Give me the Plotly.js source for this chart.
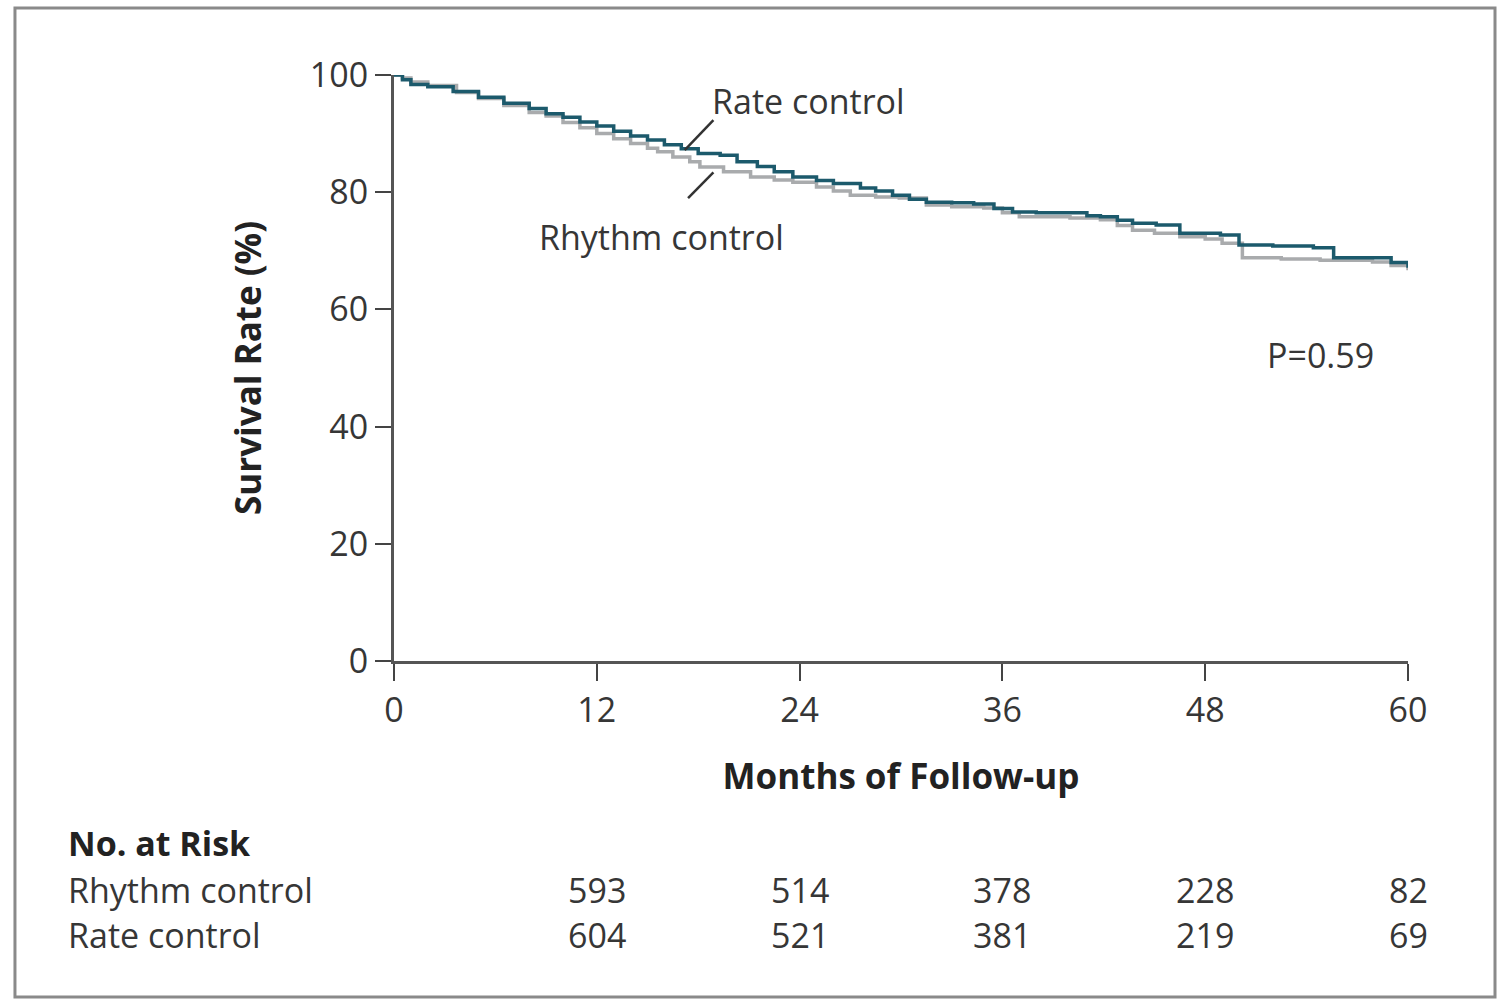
<!DOCTYPE html>
<html>
<head>
<meta charset="utf-8">
<script src="https://cdn.plot.ly/plotly-3.0.1.min.js"></script>
<style>
  html, body { margin: 0; padding: 0; background: #fff; }
  #myDiv { width: 1503px; height: 1000px; }
</style>
</head>
<body>
<div id="myDiv"></div>
<script>
// Kaplan-Meier curves (months, survival %)
var rateMonths = [0, 0.5, 1, 2, 3.5, 5, 6.5, 8, 9, 10, 11, 12, 13, 14, 15, 16, 17, 18, 19.3, 20.3, 21.5, 22.5, 23.6, 25, 26, 27.6, 28.5, 29.5, 30.5, 31.5, 33, 34.3, 35.5, 36.6, 38, 40, 41, 41.8, 42.8, 43.7, 45.1, 46.5, 48.9, 50, 52, 54.4, 55.6, 57.9, 59, 60];
var rateSurv = [100, 99.2, 98.4, 98.0, 97.2, 96.2, 95.2, 94.3, 93.4, 92.8, 92.0, 91.3, 90.4, 89.6, 88.9, 88.1, 87.4, 86.6, 86.3, 85.2, 84.4, 83.5, 82.6, 82.0, 81.5, 80.7, 80.2, 79.5, 78.8, 78.3, 78.2, 78.0, 77.2, 76.6, 76.5, 76.5, 76.0, 75.8, 75.2, 74.7, 74.4, 73.0, 72.7, 71.0, 70.8, 70.5, 68.8, 68.8, 68.0, 67.1];

var rhythmMonths = [0, 0.5, 1, 2, 3.7, 5, 6.5, 8, 9, 10, 11, 12, 13, 14, 15, 15.6, 16.5, 17.5, 18.1, 19.5, 21.1, 22.5, 23.6, 25, 26, 27, 28.5, 29.9, 31.5, 33, 34.9, 36, 37, 40, 41.8, 42.8, 43.7, 45, 46.5, 48, 49, 50.2, 52.5, 54.8, 57.9, 59, 60];
var rhythmSurv = [100, 99.5, 98.8, 98.2, 97.0, 96.0, 94.8, 93.6, 93.0, 91.9, 91.0, 90.0, 89.1, 88.3, 87.5, 86.9, 86.0, 85.2, 84.3, 83.5, 82.6, 82.1, 81.7, 80.9, 80.2, 79.5, 79.2, 79.0, 77.8, 77.5, 77.3, 76.5, 75.8, 75.6, 75.3, 74.3, 73.5, 73.0, 72.4, 72.0, 71.3, 68.8, 68.6, 68.4, 68.1, 67.5, 66.7];

// number at risk table
var riskMonths = [12, 24, 36, 48, 60];
var riskRhythm = [593, 514, 378, 228, 82];
var riskRate = [604, 521, 381, 219, 69];

var xTicks = [0, 12, 24, 36, 48, 60];
var yTicks = [0, 20, 40, 60, 80, 100];

var FONT = '"Open Sans", "Noto Sans", sans-serif';
var TXT = '#363636';
var SIZE = 34;

var rhythm = {
  x: rhythmMonths,
  y: rhythmSurv,
  name: 'Rhythm control',
  type: 'scatter',
  mode: 'lines',
  line: {shape: 'hv', color: '#a9abad', width: 3.5},
  cliponaxis: false
};

var rate = {
  x: rateMonths,
  y: rateSurv,
  name: 'Rate control',
  type: 'scatter',
  mode: 'lines',
  line: {shape: 'hv', color: '#1c5a6c', width: 3.5},
  cliponaxis: false
};

var data = [rhythm, rate];

var notes = [
  {x: 24.5, y: 95.6, text: 'Rate control'},
  {x: 15.8, y: 72.4, text: 'Rhythm control'},
  {x: 54.8, y: 52.2, text: 'P=0.59'}
].map(function (a) {
  return {x: a.x, y: a.y, xref: 'x', yref: 'y', text: a.text, showarrow: false,
    font: {family: FONT, size: SIZE, color: TXT}};
});

var rowY = {head: -0.3532, rhythm: -0.4334, rate: -0.5102};
var rowX = -0.3235;

notes.push({x: rowX, y: rowY.head, xref: 'paper', yref: 'paper', xanchor: 'left',
  text: '<b>No. at Risk</b>', showarrow: false, font: {family: FONT, size: SIZE, color: '#222'}});
notes.push({x: rowX, y: rowY.rhythm, xref: 'paper', yref: 'paper', xanchor: 'left',
  text: 'Rhythm control', showarrow: false, font: {family: FONT, size: SIZE, color: TXT}});
notes.push({x: rowX, y: rowY.rate, xref: 'paper', yref: 'paper', xanchor: 'left',
  text: 'Rate control', showarrow: false, font: {family: FONT, size: SIZE, color: TXT}});

riskMonths.forEach(function (m, i) {
  notes.push({x: m, y: rowY.rhythm, xref: 'x', yref: 'paper', text: String(riskRhythm[i]),
    showarrow: false, font: {family: FONT, size: SIZE, color: TXT}});
  notes.push({x: m, y: rowY.rate, xref: 'x', yref: 'paper', text: String(riskRate[i]),
    showarrow: false, font: {family: FONT, size: SIZE, color: TXT}});
});

var layout = {
  width: 1503,
  height: 1000,
  autosize: false,
  margin: {l: 394, r: 95, t: 75, b: 339},
  paper_bgcolor: '#ffffff',
  plot_bgcolor: '#ffffff',
  showlegend: false,
  font: {family: FONT, color: TXT},
  xaxis: {
    range: [0, 60],
    tickvals: xTicks,
    ticks: 'outside',
    ticklen: 17,
    tickwidth: 2,
    tickcolor: '#444',
    showline: true,
    linewidth: 3,
    linecolor: '#555',
    showgrid: false,
    zeroline: false,
    tickfont: {family: FONT, size: SIZE, color: TXT},
    title: {text: '<b>Months of Follow-up</b>', standoff: 34,
      font: {family: FONT, size: 35, color: '#222'}}
  },
  yaxis: {
    range: [0, 100],
    tickvals: yTicks,
    ticks: 'outside',
    ticklen: 16,
    tickwidth: 2,
    tickcolor: '#444',
    showline: true,
    linewidth: 3,
    linecolor: '#555',
    showgrid: false,
    zeroline: false,
    tickfont: {family: FONT, size: SIZE, color: TXT},
    title: {text: '<b>Survival Rate (%)</b>', standoff: 38,
      font: {family: FONT, size: 35, color: '#222'}}
  },
  annotations: notes,
  shapes: [
    // leader lines for the curve labels
    {type: 'line', xref: 'x', yref: 'y', x0: 17.2, y0: 87.2, x1: 18.9, y1: 92.3,
      line: {color: '#333', width: 2.5}},
    {type: 'line', xref: 'x', yref: 'y', x0: 17.4, y0: 79.0, x1: 18.9, y1: 83.4,
      line: {color: '#333', width: 2.5}},
    // outer frame
    {type: 'rect', xref: 'paper', yref: 'paper', x0: -0.3738, x1: 1.0858, y0: -0.5734, y1: 1.1143,
      line: {color: '#8a8a8a', width: 3}}
  ]
};

Plotly.newPlot('myDiv', data, layout, {displayModeBar: false, staticPlot: true});
</script>
</body>
</html>
